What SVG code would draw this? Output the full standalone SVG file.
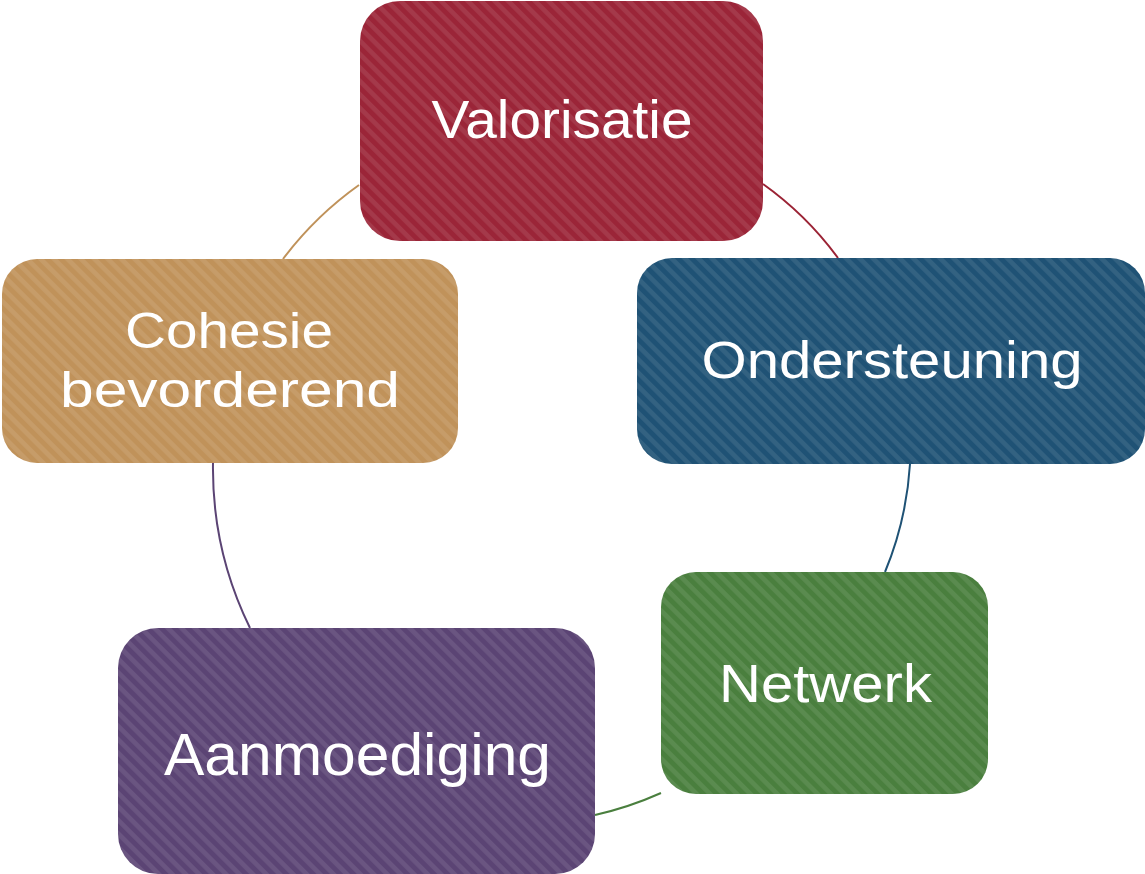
<svg xmlns="http://www.w3.org/2000/svg" width="1145" height="874" viewBox="0 0 1145 874">
  <defs>
    <pattern id="stripes" patternUnits="userSpaceOnUse" width="9.5" height="9.5" patternTransform="rotate(45)">
      <rect x="0" y="0" width="9.5" height="4.6" fill="#ffffff" fill-opacity="0.09"/>
    </pattern>
    <style>
      .lbl { font-family: "Liberation Sans", Arial, sans-serif; fill: #ffffff; text-anchor: middle; }
      .conn { fill: none; stroke-width: 2; }
      .ov { fill: url(#stripes); }
    </style>
  </defs>
  <rect width="1145" height="874" fill="#ffffff"/>

  <g id="connectors">
    <path class="conn" stroke="#9B2335" d="M763,184 A332,332 0 0 1 838,258"/>
    <path class="conn" stroke="#1F5275" d="M910,464 A336,336 0 0 1 885,572"/>
    <path class="conn" stroke="#4A7F3E" d="M661,793 A350,350 0 0 1 595,815"/>
    <path class="conn" stroke="#5B4474" d="M250,628 A362,362 0 0 1 213,463"/>
    <path class="conn" stroke="#C0925A" d="M283,259 A347,347 0 0 1 359,185"/>
  </g>

  <g id="node-valorisatie">
    <rect x="360" y="1" width="403" height="240" rx="40" fill="#9B2538"/>
    <rect class="ov" x="360" y="1" width="403" height="240" rx="40"/>
    <text class="lbl" x="562" y="138" font-size="54" textLength="261" lengthAdjust="spacingAndGlyphs">Valorisatie</text>
  </g>

  <g id="node-ondersteuning">
    <rect x="637" y="258" width="508" height="206" rx="35" fill="#1F5275"/>
    <rect class="ov" x="637" y="258" width="508" height="206" rx="35"/>
    <text class="lbl" x="892" y="378" font-size="52" textLength="381" lengthAdjust="spacingAndGlyphs">Ondersteuning</text>
  </g>

  <g id="node-netwerk">
    <rect x="661" y="572" width="327" height="222" rx="35" fill="#4A7F3E"/>
    <rect class="ov" x="661" y="572" width="327" height="222" rx="35"/>
    <text class="lbl" x="825.5" y="702" font-size="53" textLength="213" lengthAdjust="spacingAndGlyphs">Netwerk</text>
  </g>

  <g id="node-aanmoediging">
    <rect x="118" y="628" width="477" height="246" rx="40" fill="#5B4474"/>
    <rect class="ov" x="118" y="628" width="477" height="246" rx="40"/>
    <text class="lbl" x="357.5" y="775" font-size="60" textLength="387" lengthAdjust="spacingAndGlyphs">Aanmoediging</text>
  </g>

  <g id="node-cohesie">
    <rect x="2" y="259" width="456" height="204" rx="35" fill="#C0925A"/>
    <rect class="ov" x="2" y="259" width="456" height="204" rx="35"/>
    <text class="lbl" x="229" y="348" font-size="50" textLength="208" lengthAdjust="spacingAndGlyphs">Cohesie</text>
    <text class="lbl" x="230" y="407" font-size="50" textLength="340" lengthAdjust="spacingAndGlyphs">bevorderend</text>
  </g>
</svg>
